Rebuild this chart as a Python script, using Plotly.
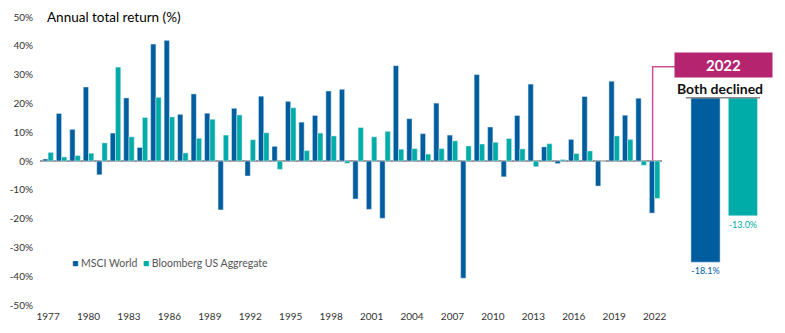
import plotly.graph_objects as go

years = list(range(1977, 2023))
msci_world = [0.7, 16.5, 11.0, 25.7, -4.8, 9.7, 21.9, 4.7, 40.6, 41.9,
              16.2, 23.3, 16.6, -17.0, 18.3, -5.2, 22.5, 5.1, 20.7, 13.5,
              15.8, 24.3, 24.9, -13.2, -16.8, -19.9, 33.1, 14.7, 9.5, 20.1,
              9.0, -40.7, 30.0, 11.8, -5.5, 15.8, 26.7, 4.9, -0.9, 7.5,
              22.4, -8.7, 27.7, 15.9, 21.8, -18.1]
bbg_agg = [3.0, 1.4, 1.9, 2.7, 6.3, 32.6, 8.4, 15.1, 22.1, 15.3,
           2.8, 7.9, 14.5, 9.0, 16.0, 7.4, 9.8, -2.9, 18.5, 3.6,
           9.7, 8.7, -0.8, 11.6, 8.4, 10.3, 4.1, 4.3, 2.4, 4.3,
           7.0, 5.2, 5.9, 6.5, 7.8, 4.2, -2.0, 6.0, 0.5, 2.6,
           3.5, 0.0, 8.7, 7.5, -1.5, -13.0]
series_names = ["MSCI World", "Bloomberg US Aggregate"]
inset_values = [-18.1, -13.0]
inset_labels = ["-18.1%", "-13.0%"]
xtick_years = list(range(1977, 2023, 3))
ytick_vals = list(range(-50, 51, 10))
ytick_text = [f"{v}%" for v in ytick_vals]

DARK = "#005E9E"
TEAL = "#00ACA7"
MAGENTA = "#B5246F"
FONT = "Lato"

W, H = 785, 333
ML, MR, MT, MB = 37, 10, 16, 28
PW = W - ML - MR
PH = H - MT - MB


def px_x(p):
    return (p - ML) / PW


def px_y(p):
    return (H - MB - p) / PH


fig = go.Figure()
fig.add_trace(go.Bar(x=years, y=msci_world, name=series_names[0],
                     marker_color=DARK, showlegend=False))
fig.add_trace(go.Bar(x=years, y=bbg_agg, name=series_names[1],
                     marker_color=TEAL, showlegend=False))

# inset bars
fig.add_trace(go.Bar(x=[0, 1], y=inset_values, xaxis="x2", yaxis="y2",
                     marker_color=[DARK, TEAL], width=0.78,
                     text=inset_labels, textposition="outside",
                     textfont=dict(color=[DARK, TEAL], size=9, family=FONT),
                     cliponaxis=False, showlegend=False))

fig.update_layout(
    width=W, height=H,
    margin=dict(l=ML, r=MR, t=MT, b=MB),
    paper_bgcolor="white", plot_bgcolor="white",
    barmode="group", bargap=0.22, bargroupgap=0,
    font=dict(family=FONT, color="#333333"),
    xaxis=dict(domain=[0, px_x(665)], range=[1976.4, 2022.55],
               tickvals=xtick_years, ticktext=[str(y) for y in xtick_years],
               showgrid=False, showline=False, zeroline=False, ticks="",
               ticklabelstandoff=4,
               tickfont=dict(size=10, color="#333333")),
    yaxis=dict(range=[-50, 50], tickvals=ytick_vals, ticktext=ytick_text,
               showgrid=False, showline=False, zeroline=True,
               zerolinecolor="#9a9a9a", zerolinewidth=2, ticks="",
               ticklabelstandoff=6,
               tickfont=dict(size=10, color="#333333")),
    xaxis2=dict(domain=[px_x(690), px_x(765.5)], range=[-0.5, 1.5],
                visible=False, anchor="y2"),
    yaxis2=dict(domain=[0, 1], range=[-22.81, 8.88], visible=False,
                anchor="x2"),
)

ann = []
ann.append(dict(x=px_x(42), y=1.0, xref="paper", yref="paper",
                text="Annual total return (%)", showarrow=False,
                xanchor="left", yanchor="middle",
                font=dict(size=13.5, color="#000000", family=FONT)))
ann.append(dict(x=px_x(67), y=px_y(263), xref="paper", yref="paper",
                text=(f"<span style='color:{DARK}'>■</span> {series_names[0]}  "
                      f"<span style='color:{TEAL}'>■</span> {series_names[1]}"),
                showarrow=False, xanchor="left", yanchor="middle",
                font=dict(size=10.5, color="#555555", family=FONT)))
ann.append(dict(x=px_x(727.5), y=px_y(64), xref="paper", yref="paper",
                text="<b>2022</b>", showarrow=False, bgcolor=MAGENTA,
                width=93, height=20, borderpad=2,
                xanchor="center", yanchor="middle",
                font=dict(size=15, color="white", family=FONT)))
ann.append(dict(x=px_x(723.5), y=px_y(88), xref="paper", yref="paper",
                text="<b>Both declined</b>", showarrow=False,
                xanchor="center", yanchor="middle",
                font=dict(size=14, color="#111111", family=FONT)))
fig.update_layout(annotations=ann)

fig.add_shape(type="line", xref="paper", yref="paper",
              x0=px_x(689), x1=px_x(764), y0=px_y(97), y1=px_y(97),
              line=dict(color="#8a8a8a", width=1.5))
fig.add_shape(type="path", xref="paper", yref="paper",
              path=(f"M {px_x(655.5)} {px_y(160)} L {px_x(655.5)} {px_y(66)} "
                    f"L {px_x(678)} {px_y(66)}"),
              line=dict(color="#D0508F", width=1.5))

fig.write_html("out.html")
